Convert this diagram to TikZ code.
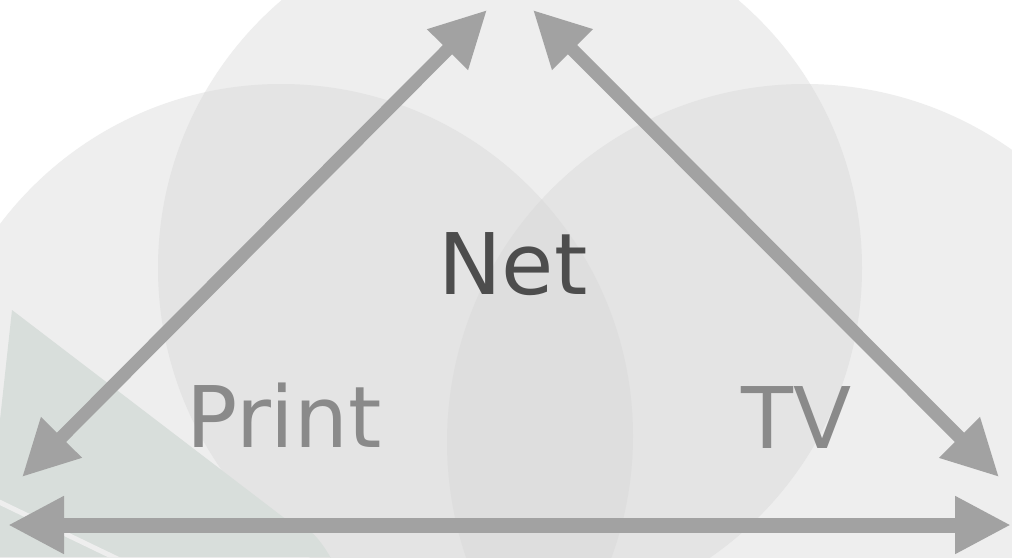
\documentclass[tikz,border=0pt]{standalone}
\usepackage{fontspec}
\setmainfont{DejaVu Sans}
\usetikzlibrary{arrows.meta}
\definecolor{arrowgray}{HTML}{A2A2A2}
\definecolor{netgray}{HTML}{4D4D4D}
\definecolor{lblgray}{HTML}{8A8A8A}
\definecolor{greenish}{HTML}{D8DEDB}
\definecolor{oneC}{HTML}{EEEEEE}
\definecolor{twoC}{HTML}{E4E4E4}
\definecolor{threeC}{HTML}{DEDEDE}
\tikzset{
  link/.style={draw=arrowgray, line width=15pt, {Triangle[length=56pt,width=54pt]}-{Triangle[length=56pt,width=54pt]}},
  bigtext/.style={font=\fontsize{85}{100}\selectfont, anchor=base, inner sep=0pt}
}
\def\cA{(510,268) circle[radius=352]}
\def\cB{(281,436) circle[radius=352]}
\def\cC{(805,442) circle[radius=358]}
\begin{document}
\begin{tikzpicture}[x=1pt,y=-1pt]
\useasboundingbox (0,0) rectangle (1012,557);
\clip (0,0) rectangle (1012,557);
\fill[white] (0,0) rectangle (1012,557);
% circles: single, pairwise and triple overlaps
\fill[oneC] \cA; \fill[oneC] \cB; \fill[oneC] \cC;
\begin{scope}\clip \cA; \fill[twoC] \cB; \fill[twoC] \cC; \end{scope}
\begin{scope}\clip \cB; \fill[twoC] \cC; \end{scope}
\begin{scope}\clip \cA; \clip \cB; \fill[threeC] \cC; \end{scope}
% greenish wedge
\fill[greenish] (12,310) -- (300,530) to[out=40,in=-60] (330,557) -- (-20,557) -- (0,420) -- cycle;
\draw[oneC, line width=5pt] (-5,500) -- (130,565);
% labels
\node[bigtext, text=netgray] (net) at (513,294) {Net};
\node[bigtext, text=lblgray] (print) at (284,447) {Print};
\node[bigtext, text=lblgray] (tv) at (797,448) {TV};
% arrow endpoints
\coordinate (pL) at (22,477);
\coordinate (nL) at (487,10);
\coordinate (nR) at (533,10);
\coordinate (tR) at (999,477);
\coordinate (bL) at (8,525);
\coordinate (bR) at (1011,525);
\draw[link, line width=13pt] (pL) -- (nL);
\draw[link, line width=13pt] (nR) -- (tR);
\draw[link] (bL) -- (bR);
\end{tikzpicture}
\end{document}
